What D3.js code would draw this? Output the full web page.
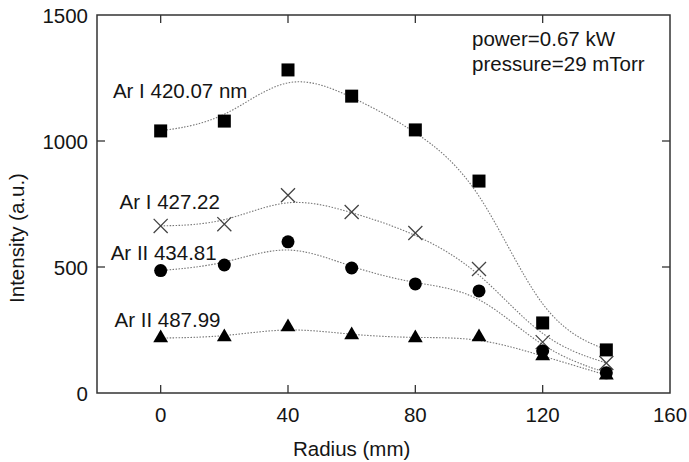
<!DOCTYPE html>
<html>
<head>
<script src="https://d3js.org/d3.v7.min.js"></script>
<style>
  body { margin: 0; background: #fff; }
  text { font-family: "Liberation Sans", Arial, sans-serif; fill: #151515; }
</style>
</head>
<body>
<div id="chart"></div>
<script>
// radius positions (mm)
const radius = [0, 20, 40, 60, 80, 100, 120, 140];

// intensities
const ar420 = [1040, 1079, 1282, 1178, 1044, 841, 278, 171];
const ar427 = [663, 670, 785, 718, 635, 492, 202, 119];
const ar434 = [486, 508, 600, 496, 433, 405, 167, 80];
const ar487 = [218, 222, 262, 230, 218, 222, 147, 71];

const seriesNames = ["Ar I 420.07 nm", "Ar I 427.22", "Ar II 434.81", "Ar II 487.99"];
const markers = ["square", "cross", "circle", "triangle"];
// label anchor in data units (left edge, baseline)
const labelPos = [[-15, 1171], [-12.9, 730], [-15.7, 528], [-14.5, 262]];

const xTicks = [0, 40, 80, 120, 160];
const yTicks = [0, 500, 1000, 1500];
const notes = ["power=0.67 kW", "pressure=29 mTorr"];

const width = 689, height = 462;
const margin = {top: 15, right: 19, bottom: 69, left: 97};
const fs = 20.5;

const svg = d3.select("#chart").append("svg")
    .attr("width", width)
    .attr("height", height);

const x = d3.scaleLinear().domain([-20, 160]).range([margin.left, width - margin.right]);
const y = d3.scaleLinear().domain([0, 1500]).range([height - margin.bottom, margin.top]);

const g = svg.append("g");

// frame
g.append("rect")
    .attr("x", x(-20)).attr("y", y(1500))
    .attr("width", x(160) - x(-20)).attr("height", y(0) - y(1500))
    .attr("fill", "none").attr("stroke", "#333").attr("stroke-width", 1.5);

// ticks pointing inward
const tickLen = 8;
xTicks.filter(t => t > -20 && t < 160).forEach(t => {
    g.append("line").attr("x1", x(t)).attr("x2", x(t))
        .attr("y1", y(0)).attr("y2", y(0) - tickLen)
        .attr("stroke", "#333").attr("stroke-width", 1.3);
    g.append("line").attr("x1", x(t)).attr("x2", x(t))
        .attr("y1", y(1500)).attr("y2", y(1500) + tickLen)
        .attr("stroke", "#333").attr("stroke-width", 1.3);
});
yTicks.filter(t => t > 0 && t < 1500).forEach(t => {
    g.append("line").attr("x1", x(-20)).attr("x2", x(-20) + tickLen)
        .attr("y1", y(t)).attr("y2", y(t))
        .attr("stroke", "#333").attr("stroke-width", 1.3);
    g.append("line").attr("x1", x(160)).attr("x2", x(160) - tickLen)
        .attr("y1", y(t)).attr("y2", y(t))
        .attr("stroke", "#333").attr("stroke-width", 1.3);
});

// tick labels
g.selectAll(".xlab").data(xTicks).enter().append("text")
    .attr("x", d => x(d)).attr("y", y(0) + 29)
    .attr("text-anchor", "middle").attr("font-size", fs)
    .text(d => d);
g.selectAll(".ylab").data(yTicks).enter().append("text")
    .attr("x", x(-20) - 9).attr("y", d => y(d) + 7.5)
    .attr("text-anchor", "end").attr("font-size", fs)
    .text(d => d);

// axis titles
svg.append("text")
    .attr("x", x(60)).attr("y", 456)
    .attr("text-anchor", "middle").attr("font-size", fs)
    .text("Radius (mm)");
svg.append("text")
    .attr("transform", `translate(24,238) rotate(-90)`)
    .attr("text-anchor", "middle").attr("font-size", fs)
    .text("Intensity (a.u.)");

// smooth dotted fit lines
const allSeries = [ar420, ar427, ar434, ar487];
const line = d3.line()
    .x((d, i) => x(radius[i]))
    .y(d => y(d))
    .curve(d3.curveBasis);

g.selectAll(".fit").data(allSeries).enter().append("path")
    .attr("d", d => line(d))
    .attr("fill", "none")
    .attr("stroke", "#777")
    .attr("stroke-width", 1.1)
    .attr("stroke-dasharray", "1.5,1.5");

// markers
const symbolFor = {
    square: d3.symbol().type(d3.symbolSquare).size(169),
    circle: d3.symbol().type(d3.symbolCircle).size(133),
    triangle: d3.symbol().type(d3.symbolTriangle).size(95),
    cross: d3.symbol().type(d3.symbolX).size(130)
};

allSeries.forEach((vals, s) => {
    const m = markers[s];
    g.selectAll(".m" + s).data(vals).enter().append("path")
        .attr("transform", (d, i) => `translate(${x(radius[i])},${y(d)})`)
        .attr("d", symbolFor[m]())
        .attr("fill", m === "cross" ? "none" : "#000")
        .attr("stroke", m === "cross" ? "#444" : "none")
        .attr("stroke-width", 1.3);
});

// series labels
g.selectAll(".slab").data(seriesNames).enter().append("text")
    .attr("x", (d, i) => x(labelPos[i][0]))
    .attr("y", (d, i) => y(labelPos[i][1]))
    .attr("font-size", fs)
    .text(d => d);

// conditions
g.selectAll(".note").data(notes).enter().append("text")
    .attr("x", 472).attr("y", (d, i) => 46 + i * 25)
    .attr("font-size", fs)
    .text(d => d);
</script>
</body>
</html>
